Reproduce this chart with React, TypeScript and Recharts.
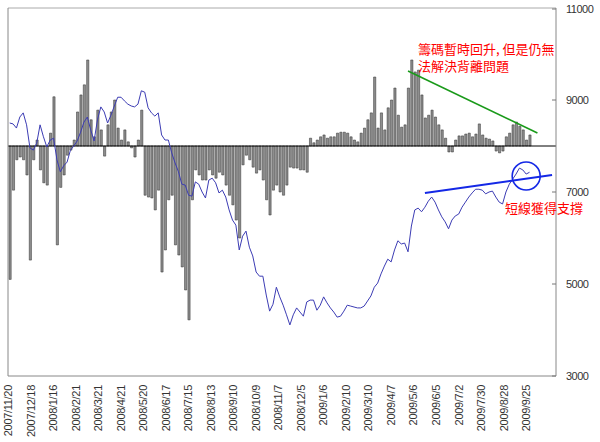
import React from 'react';
import {
  ComposedChart,
  Bar,
  Line,
  XAxis,
  YAxis,
  ReferenceLine,
  ReferenceDot,
} from 'recharts';

// x-axis tick labels (one every 20 trading days)
const tickDates = [
  '2007/11/20', '2007/12/18', '2008/1/16', '2008/2/21', '2008/3/21', '2008/4/21',
  '2008/5/20', '2008/6/17', '2008/7/15', '2008/8/13', '2008/9/10', '2008/10/9',
  '2008/11/7', '2008/12/5', '2009/1/6', '2009/2/10', '2009/3/10', '2009/4/7',
  '2009/5/6', '2009/6/5', '2009/7/2', '2009/7/30', '2009/8/28', '2009/9/25',
];
const DAYS_PER_TICK = 20;
const DAYS_PER_POINT = 3;

// index (right axis), one value every 3 trading days
const indexValues = [
  8500, 8480, 8390, 8630, 8720, 8460, 7960, 7910, 8060, 8460,
  8200, 7980, 8130, 8170, 7700, 7440, 7570, 7650, 7910, 8000,
  8110, 8300, 8520, 8630, 8350, 8110, 8570, 8850, 8740, 8500,
  8670, 8870, 9060, 9060, 8980, 8910, 8870, 8850, 8910, 9200,
  9170, 8830, 8720, 8650, 8720, 8240, 8130, 8130, 7850, 7630,
  7440, 7170, 7150, 6930, 6910, 7220, 7170, 7000, 6870, 7260,
  7300, 7200, 6980, 7040, 6890, 6610, 6390, 6280, 5740, 6040,
  6150, 5800, 5610, 5260, 5170, 5170, 4760, 4410, 4560, 4930,
  4720, 4540, 4330, 4110, 4330, 4480, 4390, 4300, 4610, 4650,
  4650, 4430, 4540, 4720, 4590, 4480, 4390, 4280, 4300, 4410,
  4540, 4520, 4500, 4480, 4480, 4520, 4630, 4740, 4930, 5020,
  5220, 5390, 5540, 5480, 5740, 5940, 5870, 5890, 5700, 6260,
  6610, 6650, 6570, 6670, 6800, 6890, 6780, 6610, 6460, 6350,
  6200, 6390, 6480, 6520, 6670, 6780, 6890, 6980, 7060, 7060,
  7040, 6960, 7000, 7020, 6890, 6780, 6740, 7000, 7170, 7280,
  7390, 7520, 7480, 7390, 7430,
];

// chip indicator (left axis, hidden labels)
const chipValues = [
  -2900, -960, -300, -240, -300, -630, -2480, -300, 130, -520,
  -800, -850, 280, 1070, -2150, -900, -630, -200, -90, 130,
  740, 1110, 1330, 1870, 570, 200, 780, 350, -220, 460,
  740, 1000, 390, 130, 350, 90, -40, -240, 130, 780,
  -1070, -1110, -1130, -1390, -960, -2740, -2260, -1170, -1070, -2150,
  -2370, -2630, -3130, -3780, -1170, -520, -630, -740, -740, -520,
  -630, -700, -570, -630, -850, -1070, -1280, -1610, -2000, -410,
  -200, -300, -460, -590, -520, -740, -1170, -1500, -960, -850,
  -1000, -1070, -850, -460, -480, -480, -520, -520, -570, 170,
  70, 130, 200, 240, 170, 200, 200, 280, 300, 300,
  280, 200, 130, 90, 280, 390, 570, 720, 1500, 390,
  720, 350, 830, 1000, 1260, 670, 410, 460, 1260, 1870,
  1610, 1650, 1110, 610, 670, 780, 630, 460, 350, 170,
  -130, -130, 130, 220, 220, 260, 280, 200, 260, 480,
  240, 170, 150, 110, -110, -150, -110, 200, 280, 460,
  520, 430, 350, 130, 240,
];

const rightTicks = [3000, 5000, 7000, 9000, 11000];
const leftTicks = [-5000, -4000, -3000, -2000, -1000, 0, 1000, 2000, 3000];

// annotations (in data units: trading day, index level)
const greenTrend = [{ x: 355, y: 9630 }, { x: 470, y: 8283 }];
const blueTrend = [{ x: 370, y: 6978 }, { x: 483, y: 7370 }];
const circleMark = { x: 460, y: 7348 };
const noteTop = ['籌碼暫時回升, 但是仍無', '法解決背離問題'];
const noteBottom = '短線獲得支撐';

const data = indexValues.map((v, i) => ({
  day: 1 + i * DAYS_PER_POINT,
  index: v,
  chips: chipValues[i],
}));

const xTicks = tickDates.map((_, k) => k * DAYS_PER_TICK);

const AXIS_FONT = '"Liberation Sans", Arial, sans-serif';
const TICK_GAP = 10;

const XTick = (props: any) => {
  const { x, y, payload } = props;
  const label = tickDates[Math.round(payload.value / DAYS_PER_TICK)] ?? '';
  return (
    <text
      x={x}
      y={y}
      transform={`rotate(-90 ${x} ${y})`}
      textAnchor="end"
      dy="0.35em"
      fontSize={11}
      letterSpacing={-0.3}
      fontFamily={AXIS_FONT}
      fill="#333"
    >
      {label}
    </text>
  );
};

const RightTick = (props: any) => {
  const { x, y, payload } = props;
  return (
    <g>
      <line x1={x - TICK_GAP - 4} x2={x - TICK_GAP} y1={y} y2={y} stroke="#777" />
      <text
        x={x}
        y={y}
        dy="0.35em"
        textAnchor="start"
        fontSize={11}
        letterSpacing={-0.5}
        fontFamily={AXIS_FONT}
        fill="#333"
      >
        {payload.value}
      </text>
    </g>
  );
};

export default function App() {
  return (
    <div style={{ position: 'absolute', left: 0, top: 0, width: 600, height: 442, background: '#fff' }}>
      <ComposedChart
        width={600}
        height={442}
        data={data}
        margin={{ top: 8, right: 0, bottom: 0, left: 8 }}
      >
        <XAxis
          dataKey="day"
          type="number"
          domain={[-0.5, 486.5]}
          ticks={xTicks}
          interval={0}
          tick={<XTick />}
          tickLine={false}
          tickSize={0}
          tickMargin={9}
          height={66}
          axisLine={{ stroke: '#888' }}
          allowDataOverflow
        />
        <YAxis
          yAxisId="left"
          orientation="left"
          domain={[-5000, 3000]}
          ticks={leftTicks}
          mirror
          tick={false}
          tickSize={4}
          tickLine={{ stroke: '#777' }}
          axisLine={{ stroke: '#888' }}
          width={8}
        />
        <YAxis
          yAxisId="right"
          orientation="right"
          domain={[3000, 11000]}
          ticks={rightTicks}
          tick={<RightTick />}
          tickLine={false}
          tickSize={0}
          tickMargin={TICK_GAP}
          axisLine={{ stroke: '#888' }}
          width={44}
        />
        <ReferenceLine yAxisId="right" y={11000} stroke="#aaa" />
        <Bar
          yAxisId="left"
          dataKey="chips"
          fill="#8e8e8e"
          stroke="#2e2e2e"
          strokeWidth={0.5}
          barSize={2.2}
          isAnimationActive={false}
        />
        <ReferenceLine yAxisId="left" y={0} stroke="#000" />
        <Line
          yAxisId="right"
          dataKey="index"
          type="linear"
          stroke="#3c3cb4"
          strokeWidth={1}
          dot={false}
          isAnimationActive={false}
        />
        <ReferenceLine yAxisId="right" segment={greenTrend} stroke="#1a9a1a" strokeWidth={1.6} />
        <ReferenceLine yAxisId="right" segment={blueTrend} stroke="#1428e6" strokeWidth={2} />
        <ReferenceDot
          yAxisId="right"
          x={circleMark.x}
          y={circleMark.y}
          r={14}
          fill="none"
          stroke="#1428e6"
          strokeWidth={1.6}
        />
      </ComposedChart>
      <div
        style={{
          position: 'absolute',
          left: 418,
          top: 40,
          fontSize: 13,
          lineHeight: '17px',
          color: '#ff0000',
          fontFamily: '"Noto Sans CJK TC", sans-serif',
          whiteSpace: 'pre',
        }}
      >
        {noteTop.join('\n')}
      </div>
      <div
        style={{
          position: 'absolute',
          left: 505,
          top: 201,
          fontSize: 13,
          lineHeight: '13px',
          color: '#ff0000',
          fontFamily: '"Noto Sans CJK TC", sans-serif',
          whiteSpace: 'pre',
        }}
      >
        {noteBottom}
      </div>
    </div>
  );
}
